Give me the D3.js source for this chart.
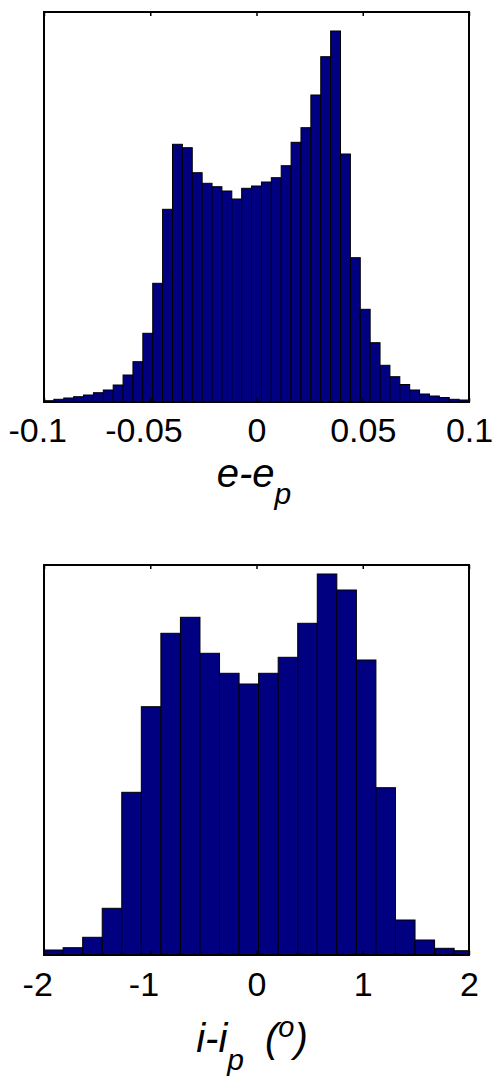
<!DOCTYPE html>
<html>
<head>
<meta charset="utf-8">
<script src="https://cdn.jsdelivr.net/npm/d3@7"></script>
<style>
  html, body { margin: 0; padding: 0; background: #fff; }
  svg { display: block; }
  text { font-family: "Liberation Sans", Arial, sans-serif; fill: #000; }
</style>
</head>
<body>
<svg id="chart" width="500" height="1082"></svg>
<script>
// ---- Data ----
// Panel 1: histogram of e - e_p, 43 bins spanning -0.1 .. 0.1
const eBinStart = -0.1;
const eBinWidth = 0.2 / 43;
const eCounts = [13, 27, 40, 53, 70, 93, 120, 170, 270, 403,
                 687, 1187, 1927, 2577, 2543, 2293, 2187, 2153, 2110, 2030,
                 2137, 2160, 2200, 2243, 2363, 2597, 2743, 3070, 3453, 3710,
                 2480, 1443, 927, 593, 367, 253, 175, 120, 80, 60,
                 45, 27, 20];
const eTicks = [-0.1, -0.05, 0, 0.05, 0.1];
const eTickLabels = ["-0.1", "-0.05", "0", "0.05", "0.1"];
const eDomain = [-0.1, 0.1];
const eYMax = 3900;

// Panel 2: histogram of i - i_p (degrees), 22 bins
const iBinStart = -2.004;
const iBinWidth = 0.184;
const iCounts = [50, 73, 177, 467, 1627, 2483, 3217, 3377, 3017, 2817,
                 2710, 2817, 2977, 3317, 3810, 3650, 2950, 1673, 350, 150,
                 67, 43];
const iTicks = [-2, -1, 0, 1, 2];
const iTickLabels = ["-2", "-1", "0", "1", "2"];
const iDomain = [-2, 2];
const iYMax = 3900;

// ---- Layout ----
const svg = d3.select("#chart");
const left = 44, right = 469;
const BAR_FILL = "#000080";

function panel(opts) {
  const { top, bottom, domain, ymax, binStart, binWidth, counts, ticks, tickLabels, clipId, tickPad } = opts;
  const x = d3.scaleLinear().domain(domain).range([left, right]);
  const y = d3.scaleLinear().domain([0, ymax]).range([bottom, top]);
  const g = svg.append("g");

  g.append("clipPath").attr("id", clipId)
    .append("rect").attr("x", left).attr("y", top)
    .attr("width", right - left).attr("height", bottom - top);

  const bins = counts.map((c, i) => ({ x0: binStart + i * binWidth, x1: binStart + (i + 1) * binWidth, c }));

  g.append("g").attr("clip-path", `url(#${clipId})`)
    .selectAll("rect").data(bins).join("rect")
    .attr("x", d => x(d.x0))
    .attr("width", d => x(d.x1) - x(d.x0))
    .attr("y", d => y(d.c))
    .attr("height", d => y(0) - y(d.c))
    .attr("fill", BAR_FILL)
    .attr("stroke", "#000")
    .attr("stroke-width", 1);

  // bottom axis with inward ticks
  const axB = d3.axisBottom(x).tickValues(ticks)
    .tickFormat((d, i) => tickLabels[i])
    .tickSize(-4).tickPadding(tickPad);
  const gb = g.append("g").attr("transform", `translate(0,${bottom})`).call(axB);
  gb.select(".domain").remove();
  gb.selectAll("line").attr("stroke", "#000").attr("stroke-width", 1.5);
  gb.selectAll("text")
    .attr("font-size", 34)
    .attr("font-family", "'Liberation Sans', Arial, sans-serif")
    .attr("fill", "#000")
    .attr("dx", (d, i) => tickLabels[i].startsWith("-") ? "-0.2em" : 0);

  // top axis with inward ticks, no labels
  const axT = d3.axisTop(x).tickValues(ticks).tickFormat("").tickSize(-4);
  const gt = g.append("g").attr("transform", `translate(0,${top})`).call(axT);
  gt.select(".domain").remove();
  gt.selectAll("line").attr("stroke", "#000").attr("stroke-width", 1.5);

  // frame
  g.append("rect").attr("x", left).attr("y", top)
    .attr("width", right - left).attr("height", bottom - top)
    .attr("fill", "none").attr("stroke", "#000").attr("stroke-width", 2);
  return { x, y };
}

const p1 = panel({ top: 12, bottom: 402, domain: eDomain, ymax: eYMax,
  binStart: eBinStart, binWidth: eBinWidth, counts: eCounts,
  ticks: eTicks, tickLabels: eTickLabels, clipId: "clip1", tickPad: 16 });
const p2 = panel({ top: 565, bottom: 955, domain: iDomain, ymax: iYMax,
  binStart: iBinStart, binWidth: iBinWidth, counts: iCounts,
  ticks: iTicks, tickLabels: iTickLabels, clipId: "clip2", tickPad: 17 });

// ---- Axis titles ----
const t1 = svg.append("text")
  .attr("x", 254).attr("y", 487)
  .attr("text-anchor", "middle")
  .attr("font-style", "italic")
  .attr("font-size", 40);
t1.append("tspan").text("e-e");
t1.append("tspan").attr("font-size", 30).attr("dy", 17).text("p");

const t2 = svg.append("text")
  .attr("x", 252).attr("y", 1052)
  .attr("text-anchor", "middle")
  .attr("font-style", "italic")
  .attr("font-size", 40);
t2.append("tspan").text("i-i");
t2.append("tspan").attr("font-size", 30).attr("dy", 18).text("p");
t2.append("tspan").attr("dy", -18).attr("dx", 21).text("(");
t2.append("tspan").attr("font-size", 29).attr("dy", -15).text("o");
t2.append("tspan").attr("dy", 15).text(")");
</script>
</body>
</html>
